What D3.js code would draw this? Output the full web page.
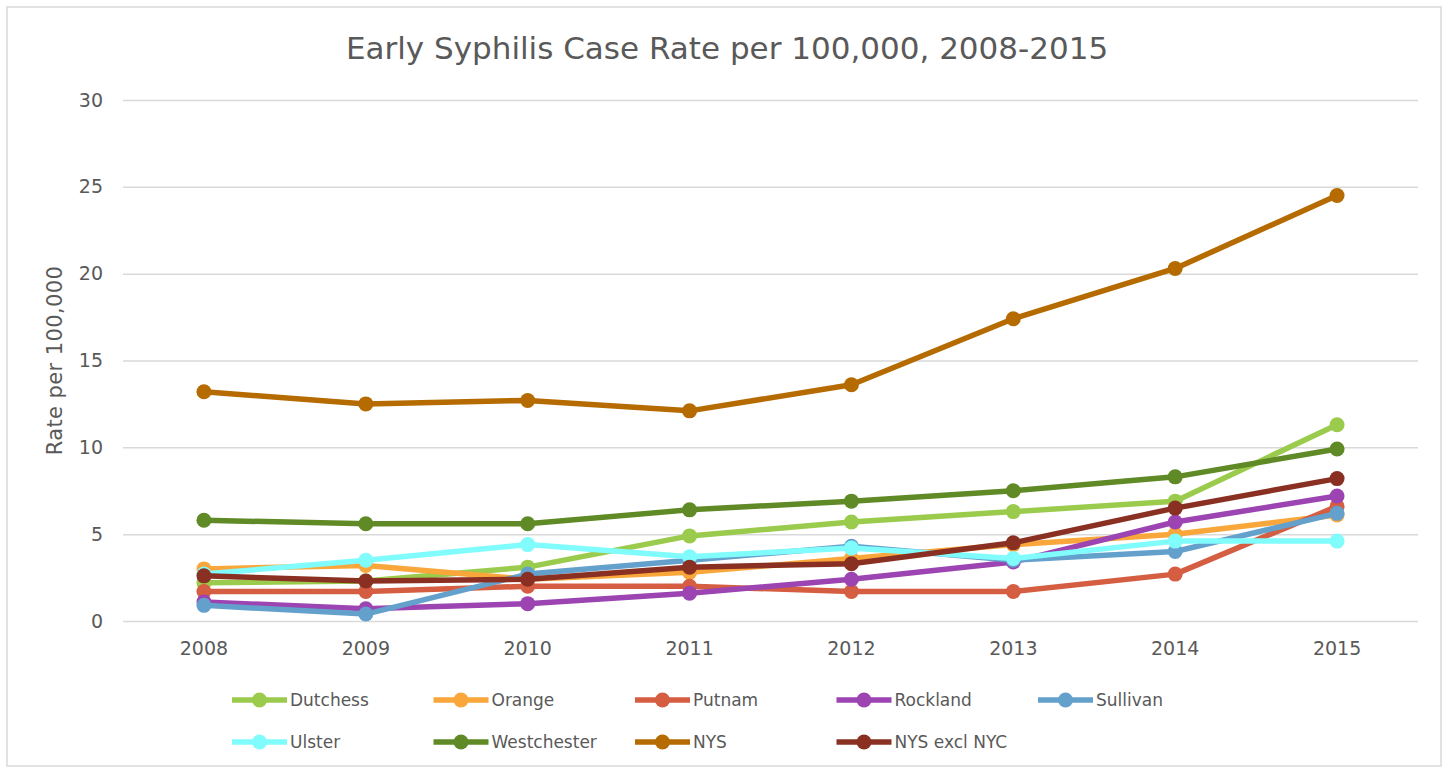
<!DOCTYPE html>
<html>
<head>
<meta charset="utf-8">
<script src="https://cdn.jsdelivr.net/npm/d3@7"></script>
<style>
  html, body { margin: 0; padding: 0; background: #fff; }
  svg { display: block; font-family: "DejaVu Sans", "Noto Sans", sans-serif; }
</style>
</head>
<body>
<svg id="chart" width="1450" height="772"></svg>
<script>
const years = ["2008","2009","2010","2011","2012","2013","2014","2015"];
const yTicks = [0, 5, 10, 15, 20, 25, 30];
const seriesNames = ["Dutchess","Orange","Putnam","Rockland","Sullivan","Ulster","Westchester","NYS","NYS excl NYC"];
const seriesColors = ["#9BCB4C","#F9A63B","#D55D42","#9B44B2","#63A1CC","#80FCFD","#5F8A26","#B56B00","#8A3022"];
const dutchess    = [2.2, 2.3, 3.1, 4.9, 5.7, 6.3, 6.9, 11.3];
const orange      = [3.0, 3.2, 2.4, 2.8, 3.6, 4.4, 5.0, 6.1];
const putnam      = [1.7, 1.7, 2.0, 2.0, 1.7, 1.7, 2.7, 6.6];
const rockland    = [1.1, 0.7, 1.0, 1.6, 2.4, 3.4, 5.7, 7.2];
const sullivan    = [0.9, 0.4, 2.7, 3.5, 4.3, 3.5, 4.0, 6.2];
const ulster      = [2.7, 3.5, 4.4, 3.7, 4.2, 3.6, 4.6, 4.6];
const westchester = [5.8, 5.6, 5.6, 6.4, 6.9, 7.5, 8.3, 9.9];
const nys         = [13.2, 12.5, 12.7, 12.1, 13.6, 17.4, 20.3, 24.5];
const nysExclNyc  = [2.6, 2.3, 2.4, 3.1, 3.3, 4.5, 6.5, 8.2];

const seriesValues = [dutchess, orange, putnam, rockland, sullivan, ulster, westchester, nys, nysExclNyc];
const series = seriesNames.map((n, i) => ({ name: n, color: seriesColors[i], values: seriesValues[i] }));

const svg = d3.select("#chart");
const textColor = "#595959";
const fontFam = "'DejaVu Sans', 'Noto Sans', sans-serif";

// outer border
svg.append("rect").attr("x", 7).attr("y", 7).attr("width", 1434).attr("height", 759)
  .attr("fill", "#fff").attr("stroke", "#d9d9d9").attr("stroke-width", 1.5);

const plotLeft = 123, plotRight = 1418, plotTop = 100, plotBottom = 621;

const x = d3.scaleBand().domain(years).range([plotLeft, plotRight]);
const y = d3.scaleLinear().domain([0, 30]).range([plotBottom, plotTop]);

// title
svg.append("text").attr("x", 727).attr("y", 59).attr("text-anchor", "middle")
  .attr("font-size", 31).attr("fill", textColor)
  .text("Early Syphilis Case Rate per 100,000, 2008-2015");

// gridlines
const yAxis = d3.axisLeft(y).tickValues(yTicks).tickSize(-(plotRight - plotLeft)).tickPadding(20);
const gy = svg.append("g").attr("transform", `translate(${plotLeft},0)`).call(yAxis);
gy.select(".domain").remove();
gy.selectAll(".tick line").attr("stroke", "#d9d9d9").attr("stroke-width", 1.5);
gy.selectAll(".tick text").attr("fill", textColor).attr("font-size", 19)
  .attr("font-family", fontFam);

// x axis
const xAxis = d3.axisBottom(x).tickSize(0).tickPadding(21);
const gx = svg.append("g").attr("transform", `translate(0,${plotBottom})`).call(xAxis);
gx.select(".domain").remove();
gx.selectAll(".tick text").attr("fill", textColor).attr("font-size", 19)
  .attr("font-family", fontFam);

// y axis title
svg.append("text").attr("transform", `translate(62,${(plotTop + plotBottom) / 2}) rotate(-90)`)
  .attr("text-anchor", "middle").attr("font-size", 21).attr("letter-spacing", 0.4)
  .attr("fill", textColor)
  .text("Rate per 100,000");

const cx = d => x(d) + x.bandwidth() / 2;
const line = d3.line().x((d, i) => cx(years[i])).y(d => y(d));

const gSeries = svg.append("g");
series.forEach(s => {
  const g = gSeries.append("g");
  g.append("path").datum(s.values).attr("d", line).attr("fill", "none")
    .attr("stroke", s.color).attr("stroke-width", 5.5).attr("stroke-linejoin", "round");
  g.selectAll("circle").data(s.values).join("circle")
    .attr("cx", (d, i) => cx(years[i])).attr("cy", d => y(d)).attr("r", 7.5)
    .attr("fill", s.color);
});

// legend
const legend = svg.append("g");
series.forEach((s, i) => {
  const col = i % 5, row = Math.floor(i / 5);
  const lx = 232 + col * 201.5, ly = 700 + row * 42;
  const g = legend.append("g").attr("transform", `translate(${lx},${ly})`);
  g.append("line").attr("x1", 0).attr("x2", 55).attr("y1", 0).attr("y2", 0)
    .attr("stroke", s.color).attr("stroke-width", 5.5);
  g.append("circle").attr("cx", 27.5).attr("cy", 0).attr("r", 7.5).attr("fill", s.color);
  g.append("text").attr("x", 58).attr("y", 0).attr("dy", "0.36em")
    .attr("font-size", 17).attr("fill", textColor).text(s.name);
});
</script>
</body>
</html>
